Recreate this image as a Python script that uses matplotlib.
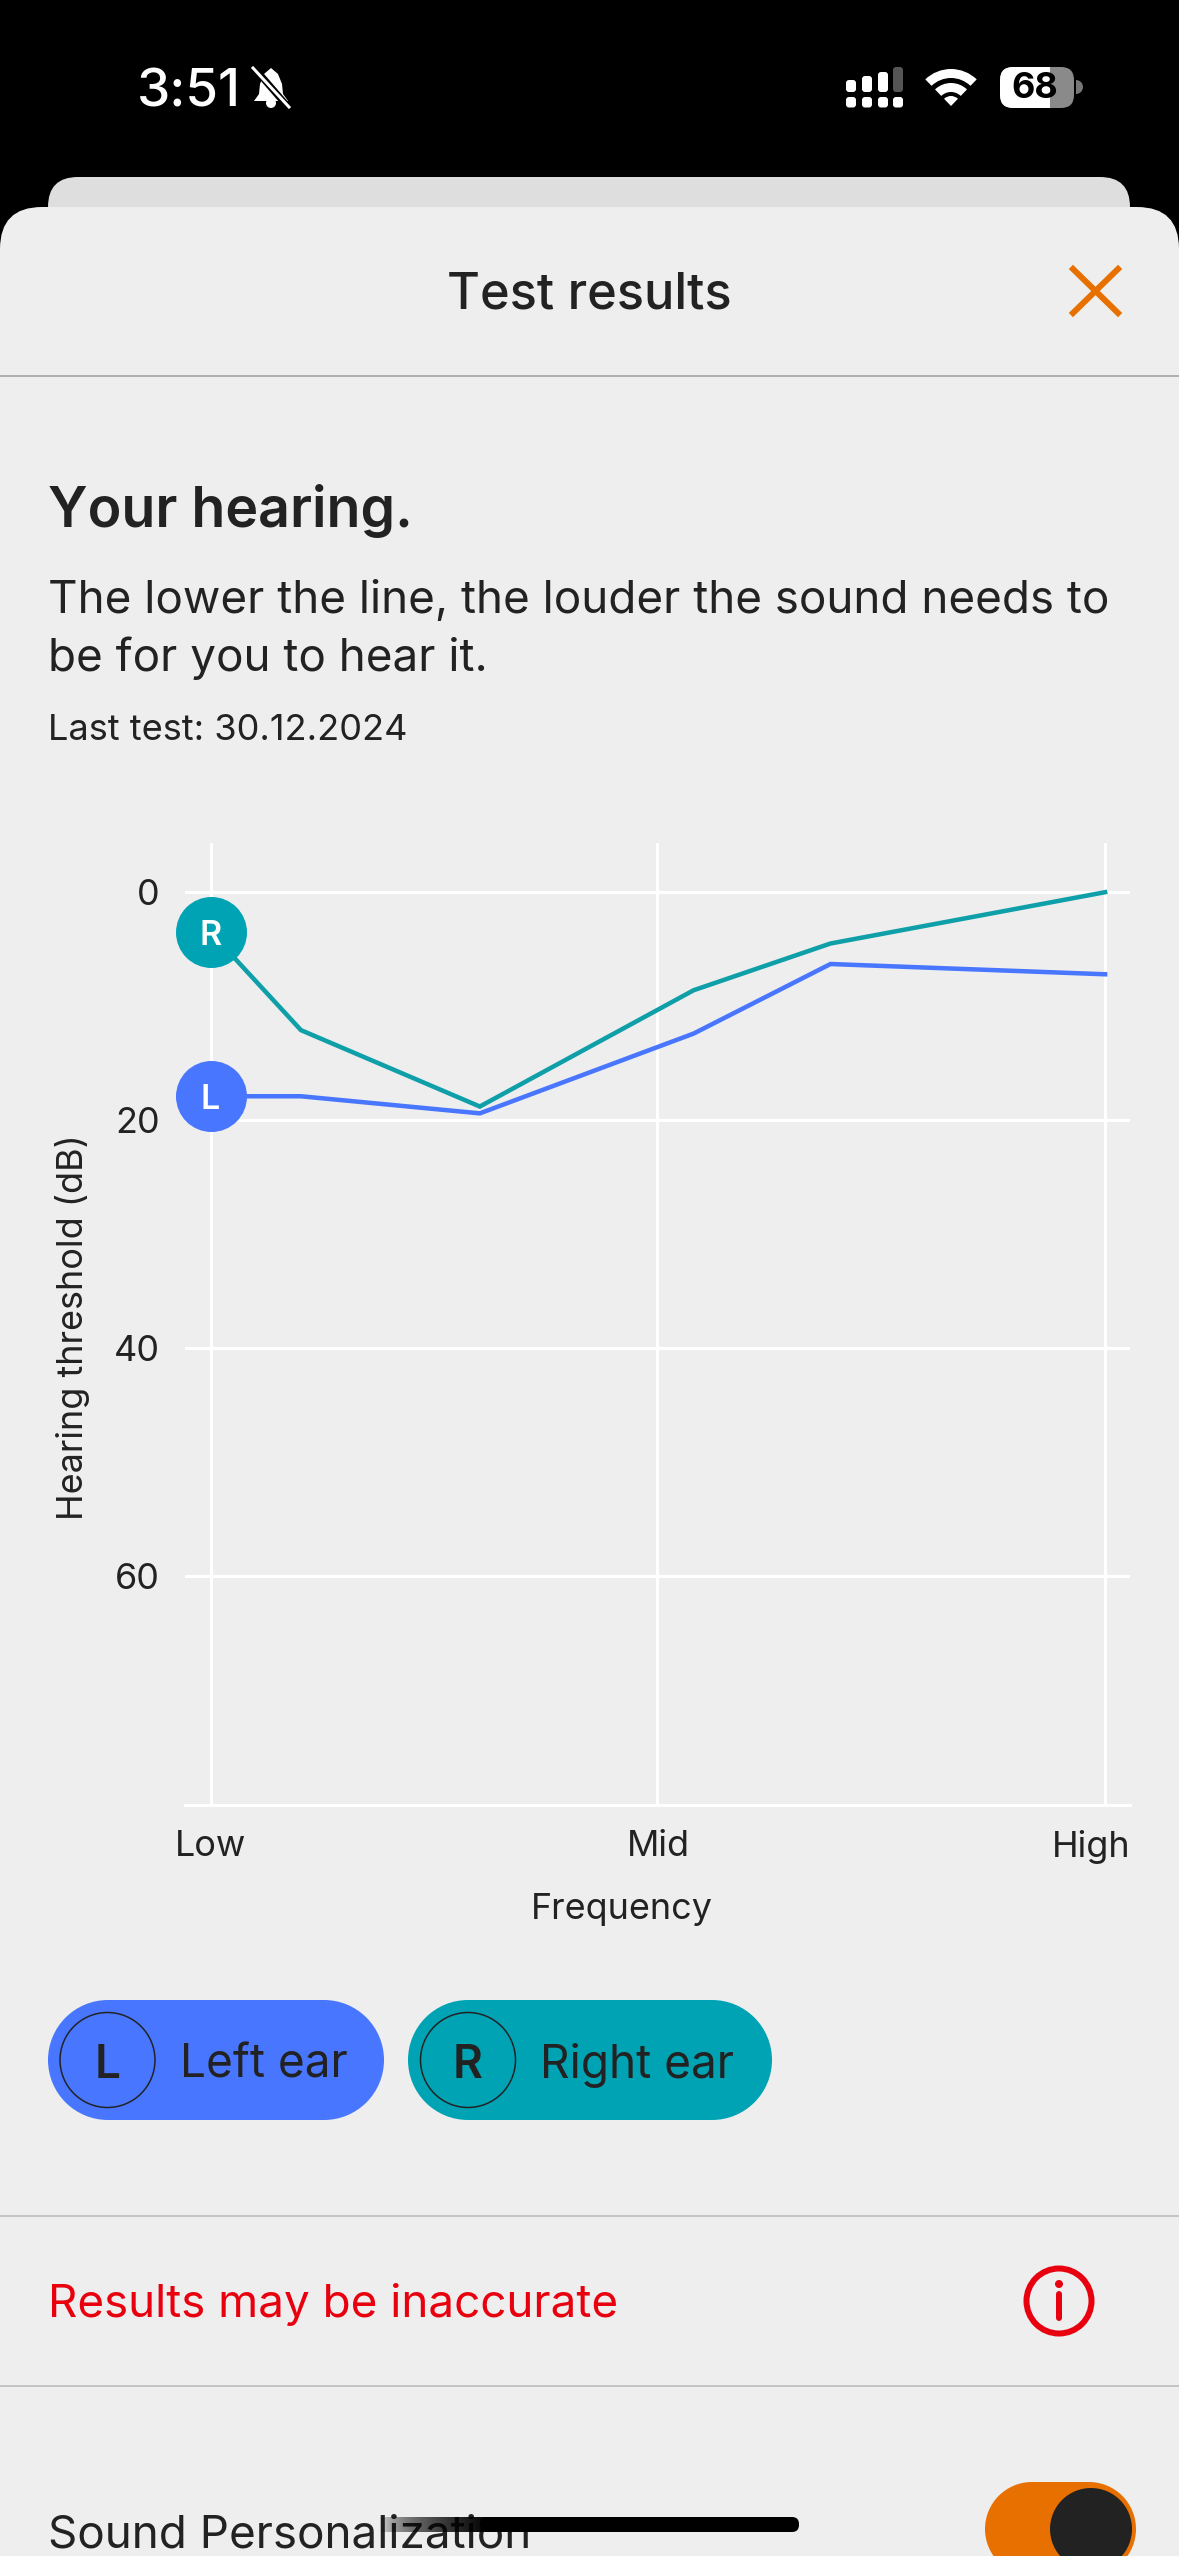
import numpy as np
import matplotlib
matplotlib.use("Agg")
import matplotlib.pyplot as plt
from matplotlib.patches import FancyBboxPatch, Circle, Wedge, Polygon, Rectangle
from matplotlib.transforms import ScaledTranslation

plt.rcParams['font.family'] = ['Inter', 'DejaVu Sans']

# ---- data ----
frequency = [0.0, 0.101, 0.301, 0.540, 0.693, 1.0]
left_ear = [17.9, 17.9, 19.4, 12.4, 6.3, 7.2]
right_ear = [3.5, 12.1, 18.8, 8.6, 4.5, 0.0]
y_ticks = [0, 20, 40, 60]
x_ticks = [0.0, 0.4986, 1.0]
x_labels = ["Low", "Mid", "High"]

W, H = 1179, 2556
BG = '#EEEEEE'; INK = '#222222'; BLUE = '#4876FF'; TEAL = '#00A3B4'; TEAL_L = '#0E9FA8'
ORANGE = '#E87000'; RED = '#E8000F'
PT = 0.72  # px to pt at dpi 100

fig = plt.figure(figsize=(W/100, H/100), dpi=100, facecolor='black')
ui = fig.add_axes([0, 0, 1, 1], zorder=0)
ui.set_xlim(0, W); ui.set_ylim(H, 0); ui.axis('off')


def rrect(x0, y0, x1, y1, r, color, z=1, **kw):
    p = FancyBboxPatch((x0, y0), x1-x0, y1-y0, boxstyle=f"round,pad=0,rounding_size={r}",
                       fc=color, ec='none', zorder=z, **kw)
    ui.add_patch(p)
    return p


def pill(x0, y0, x1, y1, color, z=3):
    r = (y1-y0)/2
    ui.add_patch(Rectangle((x0+r, y0), x1-x0-2*r, y1-y0, fc=color, ec='none', zorder=z))
    ui.add_patch(Circle((x0+r, y0+r), r, fc=color, ec='none', zorder=z))
    ui.add_patch(Circle((x1-r, y0+r), r, fc=color, ec='none', zorder=z))


def txt(x, y, s, size, color=INK, weight='normal', ha='left', va='center', z=5, **kw):
    return ui.text(x, y, s, fontsize=size*PT, color=color, fontweight=weight, ha=ha, va=va, zorder=z, **kw)


# cards
rrect(48, 177, 1130, 300, 30, '#DEDEDE')
rrect(0, 207, W, 2700, 42, BG, z=2)

# status bar
txt(137, 93, "3:51", 53, 'white', 'medium')
bell = Polygon([(271, 68), (278, 74), (282, 84), (283, 94), (288, 101), (254, 101), (259, 94),
                (260, 84), (264, 74)], closed=True, fc='white', ec='none', zorder=5)
ui.add_patch(bell)
ui.add_patch(Circle((271, 103), 5, fc='white', ec='none', zorder=5))
ui.plot([256, 288], [70, 107], color='black', lw=7*PT, zorder=6)
ui.plot([253, 289], [68, 107], color='white', lw=3*PT, zorder=7)
sig_x = [851, 867, 883, 898]
sig_top = [80, 76, 72, 67]
for i, (sx, st) in enumerate(zip(sig_x, sig_top)):
    rrect(sx-5, 97, sx+5, 107.5, 3, 'white', z=5)
    rrect(sx-5, st, sx+5, 92, 3, 'white' if i < 3 else '#555555', z=5)
wc = (951, 106)
for r0, r1 in [(37, 28), (23, 14)]:
    ui.add_patch(Wedge(wc, r0, 226, 314, width=r0-r1, fc='white', ec='none', zorder=5))
ui.add_patch(Wedge(wc, 10, 226, 314, fc='white', ec='none', zorder=5))
rrect(1000, 67, 1074, 108, 13, '#8A8A8A', z=5)
clip = Rectangle((1000, 60), 50, 60, transform=ui.transData)
white = rrect(1000, 67, 1074, 108, 13, 'white', z=6)
white.set_clip_path(clip)
ui.add_patch(Wedge((1076, 87), 7, -90, 90, fc='#777777', ec='none', zorder=5))
txt(1035, 89, "68", 36, 'black', 'bold', ha='center', z=8)

# header
txt(589.5, 295, "Test results", 50.5, INK, 'medium', ha='center')
ui.plot([1073, 1118], [269, 313], color=ORANGE, lw=6*PT, zorder=5)
ui.plot([1073, 1118], [313, 269], color=ORANGE, lw=6*PT, zorder=5)
ui.plot([0, W], [375.5, 375.5], color='#B0B0B0', lw=2*PT, zorder=5)

# intro
txt(48, 511, "Your hearing.", 55.5, INK, 'semibold')
txt(48, 601, "The lower the line, the louder the sound needs to", 45.8, INK)
txt(48, 658, "be for you to hear it.", 45.8, INK)
txt(48, 731, "Last test: 30.12.2024", 36.2, INK)

# pills
pill(48, 2000, 384, 2120, BLUE)
pill(408, 2000, 772, 2120, TEAL)
for cx, letter, label, tx in [(107.5, 'L', 'Left ear', 180), (468, 'R', 'Right ear', 540)]:
    ui.add_patch(Circle((cx, 2060), 47.5, fc='none', ec=INK, lw=1.5*PT, zorder=4))
    txt(cx, 2066, letter, 46, INK, 'semibold', ha='center')
    txt(tx, 2065, label, 46, INK)

# rows
ui.plot([0, W], [2216, 2216], color='#C4C4C4', lw=2*PT, zorder=5)
ui.plot([0, W], [2385.5, 2385.5], color='#C4C4C4', lw=2*PT, zorder=5)
txt(48, 2305, "Results may be inaccurate", 45.8, RED)
ui.add_patch(Circle((1059, 2301), 32.5, fc='none', ec=RED, lw=6*PT, zorder=5))
ui.add_patch(Circle((1059, 2284), 4, fc=RED, ec='none', zorder=5))
ui.plot([1059, 1059], [2294, 2318], color=RED, lw=6*PT, solid_capstyle='round', zorder=5)
txt(48, 2535, "Sound Personalization", 45.8, INK)
pill(985, 2482, 1136, 2576, ORANGE, z=5)
ui.add_patch(Circle((1091, 2529), 41, fc=INK, ec='none', zorder=6))

# home indicator
rrect(480, 2517, 799, 2532, 7, 'black', z=8)
grad = np.zeros((1, 256, 4)); grad[0, :, 3] = np.linspace(0, 1, 256)**0.5
ui.imshow(grad, extent=(380, 490, 2532, 2517), aspect='auto', zorder=7)
ui.set_xlim(0, W); ui.set_ylim(H, 0)

# chart
px_per_x = 894.5
px_per_y = 11.40
x0, y0 = 210.6, 892.2
xl = (-(x0-185)/px_per_x, (1130-x0)/px_per_x)
yl = ((1805-y0)/px_per_y, (843-y0)/px_per_y)
ax = fig.add_axes([185/W, 1-1805/H, (1130-185)/W, (1805-843)/H], zorder=3)
ax.patch.set_alpha(0)
ax.set_xlim(*xl); ax.set_ylim(*yl)
for s in ['top', 'left', 'right']:
    ax.spines[s].set_visible(False)
ax.spines['bottom'].set_color('white'); ax.spines['bottom'].set_linewidth(3*PT)
ax.set_yticks(y_ticks); ax.set_xticks(x_ticks, x_labels)
ax.grid(True, color='white', lw=3*PT, zorder=1)
ax.set_axisbelow(True)
ax.tick_params(length=0, labelsize=36*PT, labelcolor=INK)
ax.tick_params(axis='y', pad=18)
ax.tick_params(axis='x', pad=18)
hl = ax.get_xticklabels()[2]
hl.set_transform(hl.get_transform() + ScaledTranslation(-0.14, 0, fig.dpi_scale_trans))
ml = ax.get_xticklabels()[1]
ml.set_transform(ml.get_transform() + ScaledTranslation(0.015, 0, fig.dpi_scale_trans))

ax.plot(frequency, left_ear, color=BLUE, lw=4.5*PT, zorder=3, solid_joinstyle='miter')
ax.plot(frequency, right_ear, color=TEAL_L, lw=4.5*PT, zorder=4, solid_joinstyle='miter')
d = 71*PT
ax.scatter(frequency[0], right_ear[0], s=d**2, color=TEAL, zorder=6, clip_on=False, linewidths=0)
ax.scatter(frequency[0], left_ear[0], s=d**2, color=BLUE, zorder=6, clip_on=False, linewidths=0)
ax.text(frequency[0], right_ear[0], "R", color='white', fontsize=34*PT, fontweight='semibold',
        ha='center', va='center_baseline', zorder=7)
ax.text(frequency[0], left_ear[0], "L", color='white', fontsize=34*PT, fontweight='semibold',
        ha='center', va='center_baseline', zorder=7)
ax.set_xlabel("Frequency", fontsize=36*PT, color=INK, labelpad=21, x=(622-185)/945)
ax.set_ylabel("Hearing threshold (dB)", fontsize=36*PT, color=INK)
ax.yaxis.set_label_coords((90-185)/945, 1-(1327-843)/962)

fig.savefig("out.png", dpi=100, facecolor='black')
